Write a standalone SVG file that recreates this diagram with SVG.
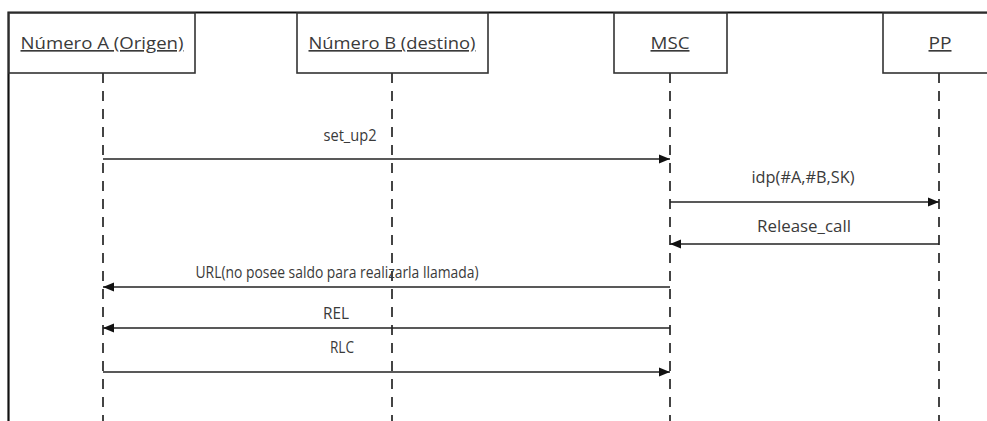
<svg xmlns="http://www.w3.org/2000/svg" width="987" height="421" viewBox="0 0 987 421">
<style>
.frame{stroke:#111;stroke-width:2.2;fill:none}
.box{fill:#fff;stroke:#333;stroke-width:1.6}
.title{font-family:"Open Sans","Liberation Sans",sans-serif;font-size:16.5px;fill:#3a3a3a;text-anchor:middle;text-decoration:underline}
.life{stroke:#444;stroke-width:2;stroke-dasharray:10 8;fill:none}
.msg{stroke:#222;stroke-width:1.6;fill:none;marker-end:url(#ah)}
.lbl{font-family:"Open Sans","Liberation Sans",sans-serif;font-size:15.5px;fill:#3a3a3a;text-anchor:middle}
</style>
<defs>
<marker id="ah" markerUnits="userSpaceOnUse" markerWidth="12" markerHeight="10" refX="11" refY="5" orient="auto">
<path d="M0,0.5 L11,5 L0,9.5 Z" fill="#111"/>
</marker>
</defs>
<rect width="987" height="421" fill="#fff"/>
<path class="frame" d="M987,12.5 H8.5 V421"/>
<g id="lifelines">
<line class="life" x1="103" y1="73" x2="103" y2="421"/>
<line class="life" x1="392" y1="73" x2="392" y2="421"/>
<line class="life" x1="670" y1="73" x2="670" y2="421"/>
<line class="life" x1="939" y1="73" x2="939" y2="421"/>
</g>
<g id="nodeA"><rect class="box" x="9" y="13" width="186" height="60"/><text class="title" x="102" y="49" textLength="163" lengthAdjust="spacingAndGlyphs">Número A (Origen)</text></g>
<g id="nodeB"><rect class="box" x="297" y="13" width="191" height="60"/><text class="title" x="392" y="49" textLength="167" lengthAdjust="spacingAndGlyphs">Número B (destino)</text></g>
<g id="nodeMSC"><rect class="box" x="614" y="13" width="113" height="60"/><text class="title" x="670" y="49" textLength="39" lengthAdjust="spacingAndGlyphs">MSC</text></g>
<g id="nodePP"><rect class="box" x="883" y="13" width="110" height="60"/><text class="title" x="940" y="49" textLength="23" lengthAdjust="spacingAndGlyphs">PP</text></g>
<g id="connectors">
<line class="msg" x1="103" y1="159" x2="670" y2="159"/>
<text class="lbl" x="350" y="141" textLength="53" lengthAdjust="spacingAndGlyphs">set_up2</text>
<line class="msg" x1="670" y1="202" x2="939" y2="202"/>
<text class="lbl" x="803" y="183" textLength="103" lengthAdjust="spacingAndGlyphs">idp(#A,#B,SK)</text>
<line class="msg" x1="939" y1="244" x2="670" y2="244"/>
<text class="lbl" x="804" y="232" textLength="94" lengthAdjust="spacingAndGlyphs">Release_call</text>
<line class="msg" x1="670" y1="287" x2="103" y2="287"/>
<text class="lbl" x="337" y="278" textLength="283" lengthAdjust="spacingAndGlyphs">URL(no posee saldo para realizarla llamada)</text>
<line class="msg" x1="670" y1="328" x2="103" y2="328"/>
<text class="lbl" x="336" y="319" textLength="26" lengthAdjust="spacingAndGlyphs">REL</text>
<line class="msg" x1="103" y1="372" x2="670" y2="372"/>
<text class="lbl" x="342" y="353" textLength="24" lengthAdjust="spacingAndGlyphs">RLC</text>
</g>
</svg>
